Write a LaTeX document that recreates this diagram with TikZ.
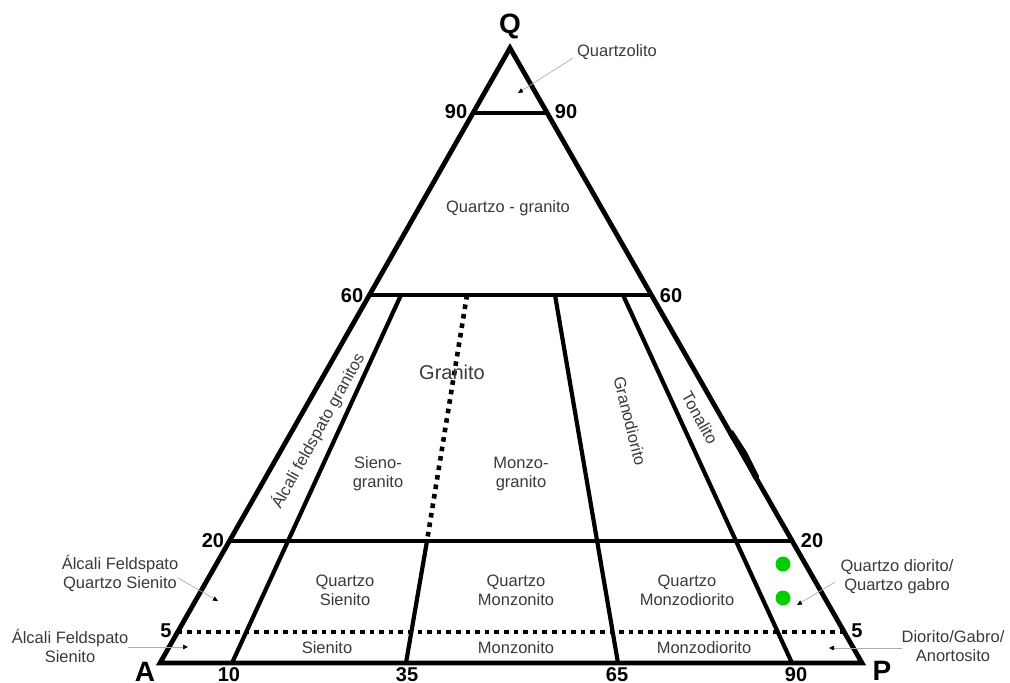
\documentclass[tikz,border=0pt]{standalone}
\usepackage{fontspec}
\setmainfont{Liberation Sans}
\usetikzlibrary{arrows.meta,calc}
\definecolor{txt}{HTML}{3A3A3A}
\definecolor{dotgreen}{HTML}{00CC00}
\begin{document}
\begin{tikzpicture}[x=1pt,y=-1pt,
  edge/.style={line width=4.8pt,line join=miter},
  divline/.style={line width=4.2pt},
  dotline/.style={line width=4.6pt,dash pattern=on 4.6pt off 5pt},
  lbl/.style={text=txt,font=\fontsize{16.5}{19}\selectfont,align=center,inner sep=0pt},
  num/.style={font=\fontsize{20}{22}\selectfont\bfseries,inner sep=0pt},
  vtx/.style={font=\fontsize{28}{30}\selectfont\bfseries,inner sep=0pt},
  lead/.style={draw=gray!65,line width=0.7pt,-{Triangle[length=5pt,width=4.5pt,color=black]}},
  gdot/.style={circle,fill=dotgreen,minimum size=15pt,inner sep=0pt}
]
\useasboundingbox (0,0) rectangle (1010,683);

% vertices
\coordinate (Q) at (510,48);
\coordinate (A) at (160,663);
\coordinate (P) at (862,663);

% level lines
\coordinate (l90) at (473,113);   \coordinate (r90) at (547,113);
\coordinate (l60) at (369.4,295); \coordinate (r60) at (651.4,295);
\coordinate (l20) at (229.4,541); \coordinate (r20) at (792.2,541);
\coordinate (l5)  at (177.6,632); \coordinate (r5)  at (844.3,632);

% ratio lines
\coordinate (t10) at (401,295); \coordinate (b10) at (232,663);
\coordinate (t35) at (467,295); \coordinate (m35) at (427,541); \coordinate (b35) at (406,663);
\coordinate (t65) at (555,295); \coordinate (b65) at (618,663);
\coordinate (t90) at (623,295); \coordinate (b90) at (792,663);

% triangle
\draw[edge] (A) -- (Q) -- (P) -- cycle;
\coordinate (k1) at (731,433); \coordinate (k2) at (744.5,454); \coordinate (k3) at (756,477);
\draw[line width=6.2pt,line cap=round] (k1) -- (k2) -- (k3);

% horizontals
\draw[divline] (l90) -- (r90);
\draw[divline] (l60) -- (r60);
\draw[divline] (l20) -- (r20);
\draw[dotline] (l5) -- (r5);

% ratio lines
\draw[divline] (t10) -- (b10);
\draw[dotline] (t35) -- (m35);
\draw[divline] (m35) -- (b35);
\draw[divline] (t65) -- (b65);
\draw[divline] (t90) -- (b90);

% vertex labels
\node[vtx] (nQ) at (510,26) {Q};
\node[vtx] (nA) at (145,672) {A};
\node[vtx] (nP) at (882,671) {P};

% scale numbers
\node[num] (n90l) at (456,112) {90};
\node[num] (n90r) at (566,112) {90};
\node[num] (n60l) at (352,296) {60};
\node[num] (n60r) at (671,296) {60};
\node[num] (n20l) at (213,541) {20};
\node[num] (n20r) at (812,541) {20};
\node[num] (n5l) at (166,631) {5};
\node[num] (n5r) at (857,631) {5};
\node[num] (n10) at (229,675) {10};
\node[num] (n35) at (407,675) {35};
\node[num] (n65) at (617,675) {65};
\node[num] (n90b) at (796,675) {90};

% field labels
\node[lbl] (qz) at (508,208) {Quartzo - granito};
\node[lbl,font=\fontsize{20}{22}\selectfont] (gr) at (452,372) {Granito};
\node[lbl,rotate=61] (afg) at (318,431) {Álcali feldspato granitos};
\node[lbl] (sg) at (378,474) {Sieno-\\granito};
\node[lbl] (mg) at (521,474) {Monzo-\\granito};
\node[lbl,rotate=-76] (gd) at (630,421) {Granodiorito};
\node[lbl,rotate=-61] (tn) at (700,418) {Tonalito};
\node[lbl] (qs) at (345,590) {Quartzo\\Sienito};
\node[lbl] (qm) at (516,590) {Quartzo\\Monzonito};
\node[lbl] (qmd) at (687,590) {Quartzo\\Monzodiorito};
\node[lbl] (si) at (327,648) {Sienito};
\node[lbl] (mo) at (516,648) {Monzonito};
\node[lbl] (md) at (704,648) {Monzodiorito};

% outside labels
\node[lbl] (ql) at (617,52) {Quartzolito};
\node[lbl] (afqs) at (120,573) {Álcali Feldspato\\Quartzo Sienito};
\node[lbl] (afs) at (70,646) {Álcali Feldspato\\Sienito};
\node[lbl] (qdg) at (897,577) {Quartzo diorito/\\Quartzo gabro};
\node[lbl] (dga) at (953,646) {Diorito/Gabro/\\Anortosito};

% leader arrows
\coordinate (ql0) at (573,58);   \coordinate (ql1) at (518,93);
\coordinate (a10) at (178,578);  \coordinate (a11) at (218,601);
\coordinate (a20) at (128,647);  \coordinate (a21) at (188,647);
\coordinate (a30) at (835,582);  \coordinate (a31) at (797,605);
\coordinate (a40) at (902,648);  \coordinate (a41) at (829,648);
\draw[lead] (ql0) -- (ql1);
\draw[lead] (a10) -- (a11);
\draw[lead] (a20) -- (a21);
\draw[lead] (a30) -- (a31);
\draw[lead] (a40) -- (a41);

% green samples
\node[gdot] (g1) at (783,564) {};
\node[gdot] (g2) at (783,598) {};
\end{tikzpicture}
\end{document}
